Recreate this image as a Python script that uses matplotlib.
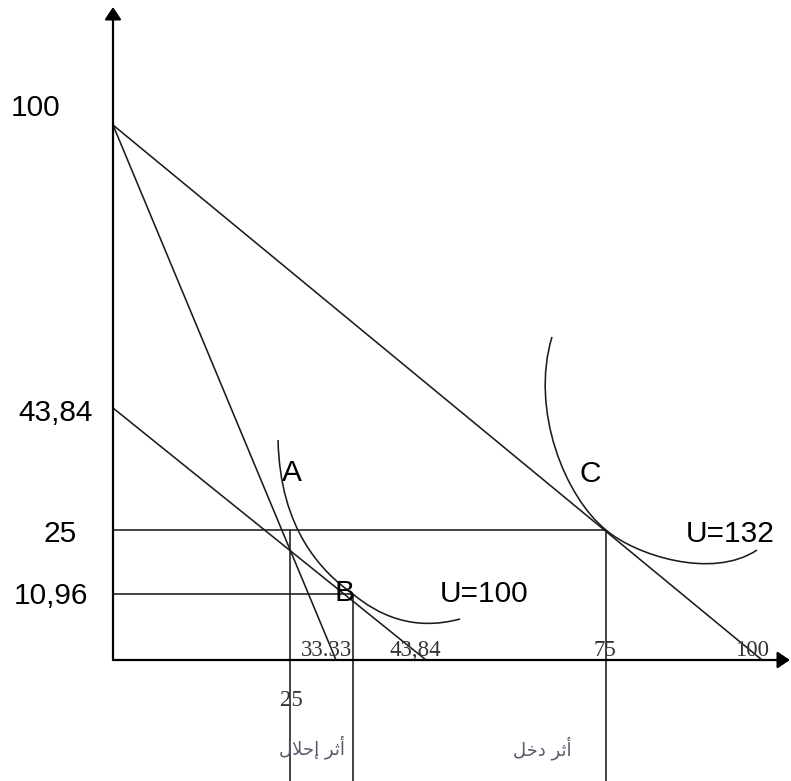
import numpy as np
import matplotlib
matplotlib.use("Agg")
import matplotlib.pyplot as plt
from matplotlib.path import Path
from matplotlib.patches import PathPatch

# ---------------------------------------------------------------- data
income = 100                 # original budget line: (0, 100) -> (100, 0)
steep_intercept = 33.33      # budget line after the price rise
comp_intercept = 43.84       # compensated budget line (both axes)
point_A = (25, 25)
point_B = (35.3, 10.96)
point_C = (75, 25)
utility_low = 100
utility_high = 132

# indifference curves as cubic Bezier chains (anchor, ctrl, ctrl, anchor, ...)
u100_x = [23.31, 23.59, 30.80, 35.3, 38.12, 42.21, 49.73]
u100_y = [38.90, 25.00, 15.79, 10.96, 7.64, 4.65, 6.81]
u132_x = [65.65, 61.84, 67.90, 75.0, 79.65, 91.99, 99.20]
u132_y = [57.93, 43.53, 30.10, 25.0, 19.52, 14.03, 20.61]

x_tick_vals = [33.33, 43.84, 75, 100]
x_tick_text = ["33.33", "43,84", "75", "100"]
y_tick_vals = [100, 43.84, 25, 10.96]
y_tick_text = ["100", "43,84", "25", "10,96"]

label_substitution = "أثر إحلال"
label_income = "أثر دخل"

# ---------------------------------------------------------------- layout
W, H, DPI = 791, 781, 100
# schematic (not-to-scale) axes: key values -> pixel positions
x_break_val = [-20, 0, 25, 33.33, 43.84, 75, 100, 130]
x_break_pix = [-28.6, 113, 290, 336, 426, 606, 762, 949.2]
y_break_val = [-30, 0, 10.96, 25, 43.84, 100, 160]
y_break_pix = [-59.7, 121, 187, 251, 373, 656, 958.4]


def fwd_x(v):
    return np.interp(np.asarray(v, float), x_break_val, x_break_pix)


def inv_x(p):
    return np.interp(np.asarray(p, float), x_break_pix, x_break_val)


def fwd_y(v):
    return np.interp(np.asarray(v, float), y_break_val, y_break_pix)


def inv_y(p):
    return np.interp(np.asarray(p, float), y_break_pix, y_break_val)


# ---------------------------------------------------------------- arabic shaping
# isolated, final, initial, medial
FORMS = {
    "ا": ("\uFE8D", "\uFE8E", None, None),
    "أ": ("\uFE83", "\uFE84", None, None),
    "إ": ("\uFE87", "\uFE88", None, None),
    "د": ("\uFEA9", "\uFEAA", None, None),
    "ر": ("\uFEAD", "\uFEAE", None, None),
    "ث": ("\uFE99", "\uFE9A", "\uFE9B", "\uFE9C"),
    "ح": ("\uFEA1", "\uFEA2", "\uFEA3", "\uFEA4"),
    "خ": ("\uFEA5", "\uFEA6", "\uFEA7", "\uFEA8"),
    "ل": ("\uFEDD", "\uFEDE", "\uFEDF", "\uFEE0"),
}
LAM_ALEF = ("\uFEFB", "\uFEFC")


def shape_word(word):
    units = []
    i = 0
    while i < len(word):
        if word[i] == "ل" and i + 1 < len(word) and word[i + 1] == "ا":
            units.append("LA")
            i += 2
        else:
            units.append(word[i])
            i += 1
    out = []
    for k, u in enumerate(units):
        prev_dual = k > 0 and units[k - 1] != "LA" and FORMS[units[k - 1]][2] is not None
        has_next = k + 1 < len(units)
        if u == "LA":
            out.append(LAM_ALEF[1] if prev_dual else LAM_ALEF[0])
            continue
        iso, fin, ini, med = FORMS[u]
        if ini is None:
            out.append(fin if prev_dual else iso)
        else:
            if prev_dual and has_next:
                out.append(med)
            elif prev_dual:
                out.append(fin)
            elif has_next:
                out.append(ini)
            else:
                out.append(iso)
    return "".join(reversed(out))


def shape(text):
    return " ".join(shape_word(w) for w in reversed(text.split(" ")))


# ---------------------------------------------------------------- figure
fig = plt.figure(figsize=(W / DPI, H / DPI), dpi=DPI)
fig.patch.set_facecolor("white")
ax = fig.add_axes([0, 0, 1, 1])
ax.set_xscale("function", functions=(fwd_x, inv_x))
ax.set_yscale("function", functions=(fwd_y, inv_y))
ax.set_xlim(float(inv_x(0)), float(inv_x(W)))
ax.set_ylim(float(inv_y(0)), float(inv_y(H)))
ax.set_axis_off()

LINE = dict(color="#1c1c1c", lw=1.15, solid_capstyle="butt")
bottom = float(inv_y(0))

# axes with arrow heads
arrow = dict(arrowstyle="-|>,head_length=0.3,head_width=0.2", color="black",
             lw=1.6, shrinkA=0, shrinkB=0, mutation_scale=25)
ax.annotate("", xy=(0, float(inv_y(H - 7))), xytext=(0, 0), arrowprops=arrow)
ax.annotate("", xy=(float(inv_x(790)), 0), xytext=(0, 0), arrowprops=arrow)

# budget lines
ax.plot([0, income], [income, 0], **LINE)
ax.plot([0, steep_intercept], [income, 0], **LINE)
ax.plot([0, comp_intercept], [comp_intercept, 0], **LINE)

# guide lines
ax.plot([0, point_C[0]], [point_A[1], point_C[1]], **LINE)
ax.plot([0, point_B[0]], [point_B[1], point_B[1]], **LINE)
ax.plot([point_A[0], point_A[0]], [point_A[1], bottom], **LINE)
ax.plot([point_B[0], point_B[0]], [point_B[1], bottom], **LINE)
ax.plot([point_C[0], point_C[0]], [point_C[1], bottom], **LINE)

# indifference curves
codes = [Path.MOVETO] + [Path.CURVE4] * 6
for xs, ys in ((u100_x, u100_y), (u132_x, u132_y)):
    ax.add_patch(PathPatch(Path(np.column_stack([xs, ys]), codes),
                           fill=False, edgecolor="#1c1c1c", lw=1.15))

sans = dict(family="Liberation Sans", fontsize=21.5, color="black",
            ha="center", va="center", textcoords="offset pixels")
serif = dict(family="Liberation Serif", fontsize=16.5, color="#333333",
             ha="center", va="center", textcoords="offset pixels")

# y-axis labels
y_offsets = [(-77, 17), (-57, -5), (-53, -4), (-62, -2)]
for v, t, off in zip(y_tick_vals, y_tick_text, y_offsets):
    ax.annotate(t, xy=(0, v), xytext=off, **sans)

# x-axis labels
x_offsets = [(-9, 10), (-11, 10), (-1, 9), (-10, 9)]
for v, t, off in zip(x_tick_vals, x_tick_text, x_offsets):
    ax.annotate(t, xy=(v, 0), xytext=off, **serif)
ax.annotate("25", xy=(point_A[0], 0), xytext=(1, -40), **serif)

# points and curve labels
ax.annotate("A", xy=point_A, xytext=(2, 57), **sans)
ax.annotate("B", xy=point_B, xytext=(-8, 1), **sans)
ax.annotate("C", xy=point_C, xytext=(-16, 56), **sans)
ax.annotate(f"U={utility_low}", xy=point_B, xytext=(131, 0), **sans)
ax.annotate(f"U={utility_high}", xy=point_C, xytext=(124, -4), **sans)

# substitution / income effect labels
arab = dict(family="DejaVu Sans", fontsize=13, color="#5a5a6a",
            ha="center", va="center", textcoords="offset pixels")
ax.annotate(shape(label_substitution), xy=(point_B[0], 0), xytext=(-41, -87), **arab)
ax.annotate(shape(label_income), xy=(point_C[0], 0), xytext=(-64, -88), **arab)

fig.savefig("out.png", dpi=DPI, facecolor="white")
